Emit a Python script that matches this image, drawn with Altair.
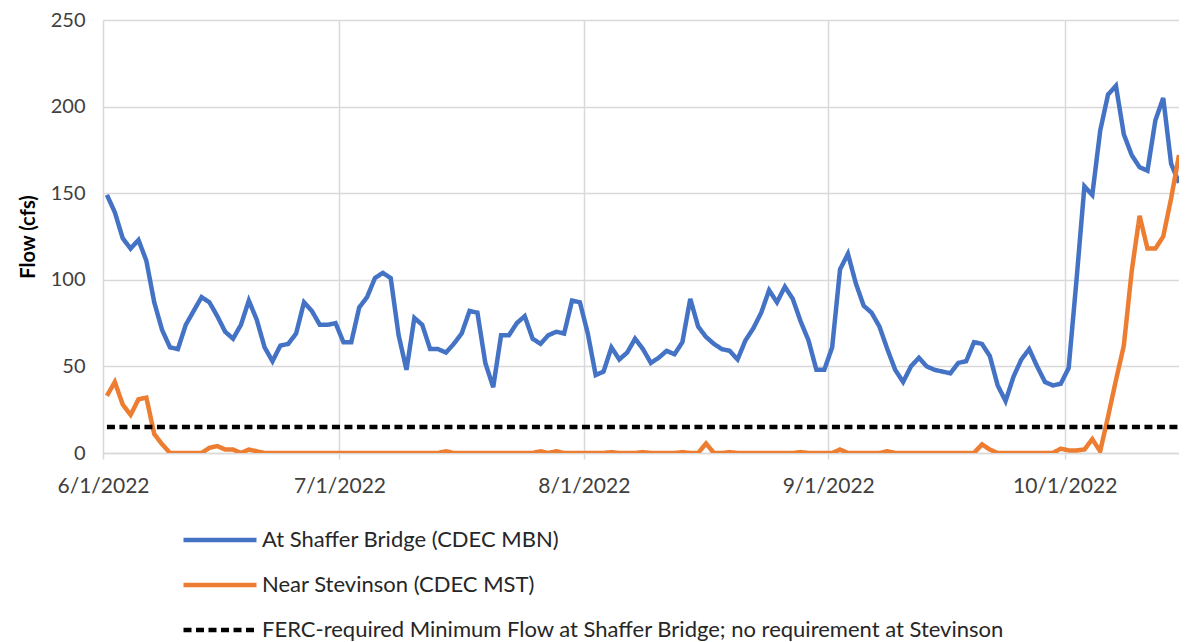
import altair as alt
import pandas as pd

# ---- data (daily, 6/1/2022 .. 10/15/2022) ----
start_date = "2022-06-01 12:00"
n_days = 137

shaffer_bridge = [
    149, 139, 124, 118, 123, 111, 87, 71, 61, 60,
    74, 82, 90, 87, 79, 70, 66, 74, 88, 77,
    61, 53, 62, 63, 69, 87, 82, 74, 74, 75,
    64, 64, 84, 90, 101, 104, 101, 68, 48, 78,
    74, 60, 60, 58, 63, 69, 82, 81, 52, 38,
    68, 68, 75, 79, 66, 63, 68, 70, 69, 88,
    87, 69, 45, 47, 61, 54, 58, 66, 60, 52,
    55, 59, 57, 64, 89, 73, 67, 63, 60, 59,
    54, 65, 72, 81, 94, 87, 96, 89, 76, 65,
    48, 48, 61, 106, 115, 98, 85, 81, 73, 60,
    48, 41, 50, 55, 50, 48, 47, 46, 52, 53,
    64, 63, 56, 39, 30, 44, 54, 60, 50, 41,
    39, 40, 49, 100, 154, 149, 186, 207, 212, 184,
    172, 165, 163, 192, 205, 167, 156,
]

stevinson = [
    33, 41, 28, 22, 31, 32, 11, 5, 0, 0,
    0, 0, 0, 3, 4, 2, 2, 0, 2, 1,
    0, 0, 0, 0, 0, 0, 0, 0, 0, 0,
    0, 0, 0, 0, 0, 0, 0, 0, 0, 0,
    0, 0, 0, 1, 0, 0, 0, 0, 0, 0,
    0, 0, 0, 0, 0, 1, 0, 1, 0, 0,
    0, 0, 0, 0, 0.5, 0, 0, 0, 0.5, 0,
    0, 0, 0, 0.5, 0, 0, 5.5, 0, 0, 0.5,
    0, 0, 0, 0, 0, 0, 0, 0, 0.5, 0,
    0, 0, 0, 2, 0, 0, 0, 0, 0, 1,
    0, 0, 0, 0, 0, 0, 0, 0, 0, 0,
    0, 5, 2, 0, 0, 0, 0, 0, 0, 0,
    0, 2.5, 1.5, 1.5, 2, 8, 1, 21, 42, 62,
    105, 137, 118, 118, 125, 147, 172,
]

ferc_minimum = 15

series_names = [
    "At Shaffer Bridge (CDEC MBN)",
    "Near Stevinson (CDEC MST)",
    "FERC-required Minimum Flow at Shaffer Bridge; no requirement at Stevinson",
]
series_colors = ["#4472C4", "#ED7D31", "#000000"]

tick_dates = ["2022-06-01", "2022-07-01", "2022-08-01", "2022-09-01", "2022-10-01"]

# ---- build long table ----
dates = pd.date_range(start_date, periods=n_days, freq="D").strftime("%Y-%m-%dT%H:%M:%S")
frames = []
for name, vals in zip(series_names, [shaffer_bridge, stevinson, [ferc_minimum] * n_days]):
    frames.append(pd.DataFrame({"date": list(dates), "flow": vals, "series": name}))
df = pd.concat(frames, ignore_index=True)

FONT = "Lato"

tick_vals = [alt.DateTime(year=int(d[:4]), month=int(d[5:7]), date=int(d[8:10])) for d in tick_dates]

chart = (
    alt.Chart(df)
    .mark_line(strokeWidth=4.5, clip=True)
    .encode(
        x=alt.X(
            "date:T",
            title=None,
            scale=alt.Scale(
                domain=[
                    alt.DateTime(year=2022, month=6, date=1),
                    alt.DateTime(year=2022, month=10, date=15, hours=12),
                ]
            ),
            axis=alt.Axis(
                values=tick_vals,
                format="%-m/%-d/%Y",
                labelFont=FONT,
                labelFontSize=21,
                labelColor="#404040",
                labelPadding=16,
                labelFlush=False,
                tickColor="#d9d9d9",
                tickSize=6,
                tickWidth=1.5,
                domainColor="#d9d9d9",
                domainWidth=1.5,
                gridColor="#d9d9d9",
                gridWidth=1.5,
                labelOverlap=False,
            ),
        ),
        y=alt.Y(
            "flow:Q",
            title="Flow (cfs)",
            scale=alt.Scale(domain=[0, 250], nice=False),
            axis=alt.Axis(
                values=[0, 50, 100, 150, 200, 250],
                labelFont=FONT,
                labelFontSize=20,
                labelColor="#404040",
                labelPadding=18,
                ticks=False,
                domain=False,
                gridColor="#d9d9d9",
                gridWidth=1.5,
                titleFont=FONT,
                titleFontSize=20,
                titleFontWeight="bold",
                titleColor="#000000",
                titlePadding=12,
            ),
        ),
        color=alt.Color(
            "series:N",
            scale=alt.Scale(domain=series_names, range=series_colors),
            title=None,
        ),
        strokeDash=alt.StrokeDash(
            "series:N",
            scale=alt.Scale(domain=series_names, range=[[1, 0], [1, 0], [8, 4.5]]),
            title=None,
        ),
    )
    .properties(
        width=1076,
        height=433,
        autosize=alt.AutoSizeParams(type="none"),
        padding={"left": 95, "top": 12, "right": 0, "bottom": 190},
    )
    .configure_view(stroke=None)
    .configure_legend(
        orient="none",
        legendX=78,
        legendY=509,
        direction="vertical",
        symbolType="stroke",
        symbolSize=5329,
        symbolStrokeWidth=4.5,
        clipHeight=22,
        rowPadding=23,
        labelFont=FONT,
        labelFontSize=22,
        labelColor="#262626",
        labelOffset=3,
        labelLimit=0,
    )
)

chart.save("out.html", embed_options={"renderer": "svg", "actions": False})
